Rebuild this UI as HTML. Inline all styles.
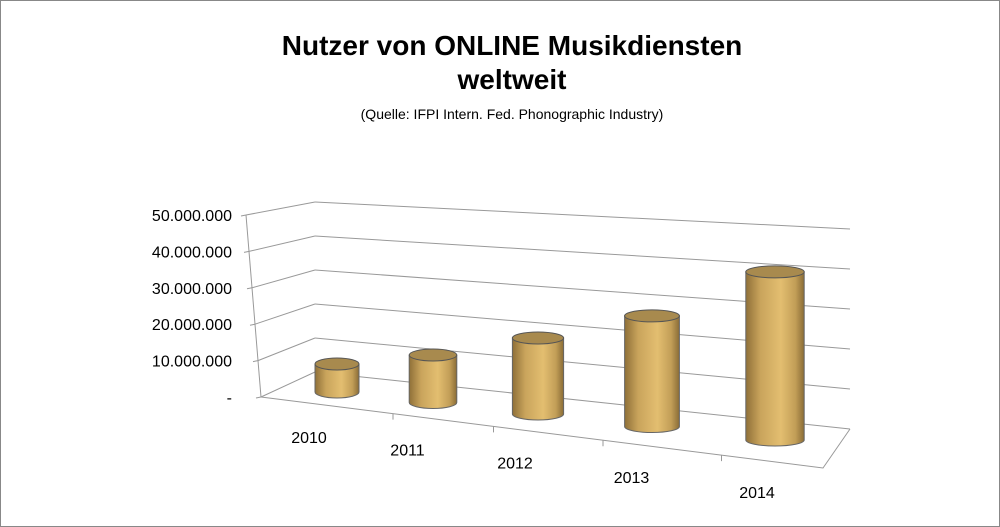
<!DOCTYPE html>
<html><head><meta charset="utf-8"><style>
body{margin:0;background:#fff;}
svg{display:block;font-family:"Liberation Sans",sans-serif;}
</style></head><body>
<svg width="1000" height="527" viewBox="0 0 1000 527" xmlns="http://www.w3.org/2000/svg">
<defs>
<linearGradient id="cyl" x1="0" x2="1" y1="0" y2="0">
<stop offset="0" stop-color="#8f7038"/><stop offset="0.25" stop-color="#c9a45c"/><stop offset="0.6" stop-color="#e3be70"/><stop offset="0.85" stop-color="#c29e57"/><stop offset="1" stop-color="#8a6c36"/>
</linearGradient>
</defs>
<rect x="0.5" y="0.5" width="999" height="526" fill="#fff" stroke="#888"/>
<text x="512" y="55" text-anchor="middle" font-size="28" font-weight="bold">Nutzer von ONLINE Musikdiensten</text>
<text x="512" y="89" text-anchor="middle" font-size="28" font-weight="bold">weltweit</text>
<text x="512" y="119" text-anchor="middle" font-size="14">(Quelle: IFPI Intern. Fed. Phonographic Industry)</text>
<g id="grid"></g>
<g id="axis"></g>
<g id="bars"></g>
<g id="cats"></g>
</svg>
<script>
const categories = ["2010","2011","2012","2013","2014"];
const values = [8000000, 13000000, 20000000, 28000000, 41000000];
const tickValues = [0, 10000000, 20000000, 30000000, 40000000, 50000000];
const tickLabels = ["-", "10.000.000", "20.000.000", "30.000.000", "40.000.000", "50.000.000"];

const NS = "http://www.w3.org/2000/svg";
function mk(tag, attrs, parent){const e=document.createElementNS(NS,tag);for(const k in attrs)e.setAttribute(k,attrs[k]);parent.appendChild(e);return e;}
// geometry
const yBL = v => 372 - v*3.4e-6, xBL = 315;
const yBR = v => 429 - v*4.0e-6, xBR = 850;
const xFL = v => 261 - v*3e-7, yFL = v => 397 - v*3.64e-6;
const cx = i => 337 + 91.5*i + 4.5*i*i;
const baseY = i => 392 + 10*i + 0.5*i*i;
const halfW = i => 22 + 1.8*i;
const scl = i => (35 + 1.5*i)/1e7;

const grid=document.getElementById('grid'), axis=document.getElementById('axis'), bars=document.getElementById('bars'), cats=document.getElementById('cats');
tickValues.forEach((v,k)=>{
  const b=mk('line',{x1:xBL,y1:yBL(v),x2:xBR,y2:yBR(v),stroke:'#999','stroke-width':1},grid);
  
  
  const s=mk('line',{x1:xFL(v),y1:yFL(v),x2:xBL,y2:yBL(v),stroke:'#999','stroke-width':1},grid);
  
  
  const t=mk('line',{x1:xFL(v)-5,y1:yFL(v)+1,x2:xFL(v),y2:yFL(v),stroke:'#999'},axis);
  
  
  const l=mk('text',{x:232,y:yFL(v)+6,'text-anchor':'end','font-size':16,fill:'#000'},axis);
  l.textContent=tickLabels[k];
  
  
});
const ax=mk('line',{x1:xFL(50000000),y1:yFL(50000000),x2:xFL(0),y2:yFL(0),stroke:'#999'},axis);


const fe=mk('polyline',{points:`${xFL(0)},${yFL(0)} 823,468 ${xBR},${yBR(0)}`,fill:'none',stroke:'#999'},grid);


const n=categories.length;
for(let i=1;i<n;i++){
  const x=(cx(i-1)+cx(i))/2+8, t=(x-261)/(823-261), y=397+t*71;
  const tk=mk('line',{x1:x,y1:y,x2:x,y2:y+6,stroke:'#999'},grid);
  
  
}
values.forEach((v,i)=>{
  const c=cx(i), w=halfW(i), b=baseY(i), top=b - v*scl(i), ry=6;
  const g=mk('g',{},bars);
  
  
  mk('path',{d:`M${c-w},${top} L${c-w},${b} A${w},${ry} 0 0 0 ${c+w},${b} L${c+w},${top} Z`,fill:'url(#cyl)',stroke:'#666','stroke-width':1},g);
  mk('ellipse',{cx:c,cy:top,rx:w,ry:ry,fill:'#a88a4e',stroke:'#555','stroke-width':1},g);
  const lb=mk('text',{x:c-28+2.5*i,y:b+51+1.8*i,'text-anchor':'middle','font-size':16,fill:'#000'},cats);
  lb.textContent=categories[i];
  
  
});
</script>
</body></html>
